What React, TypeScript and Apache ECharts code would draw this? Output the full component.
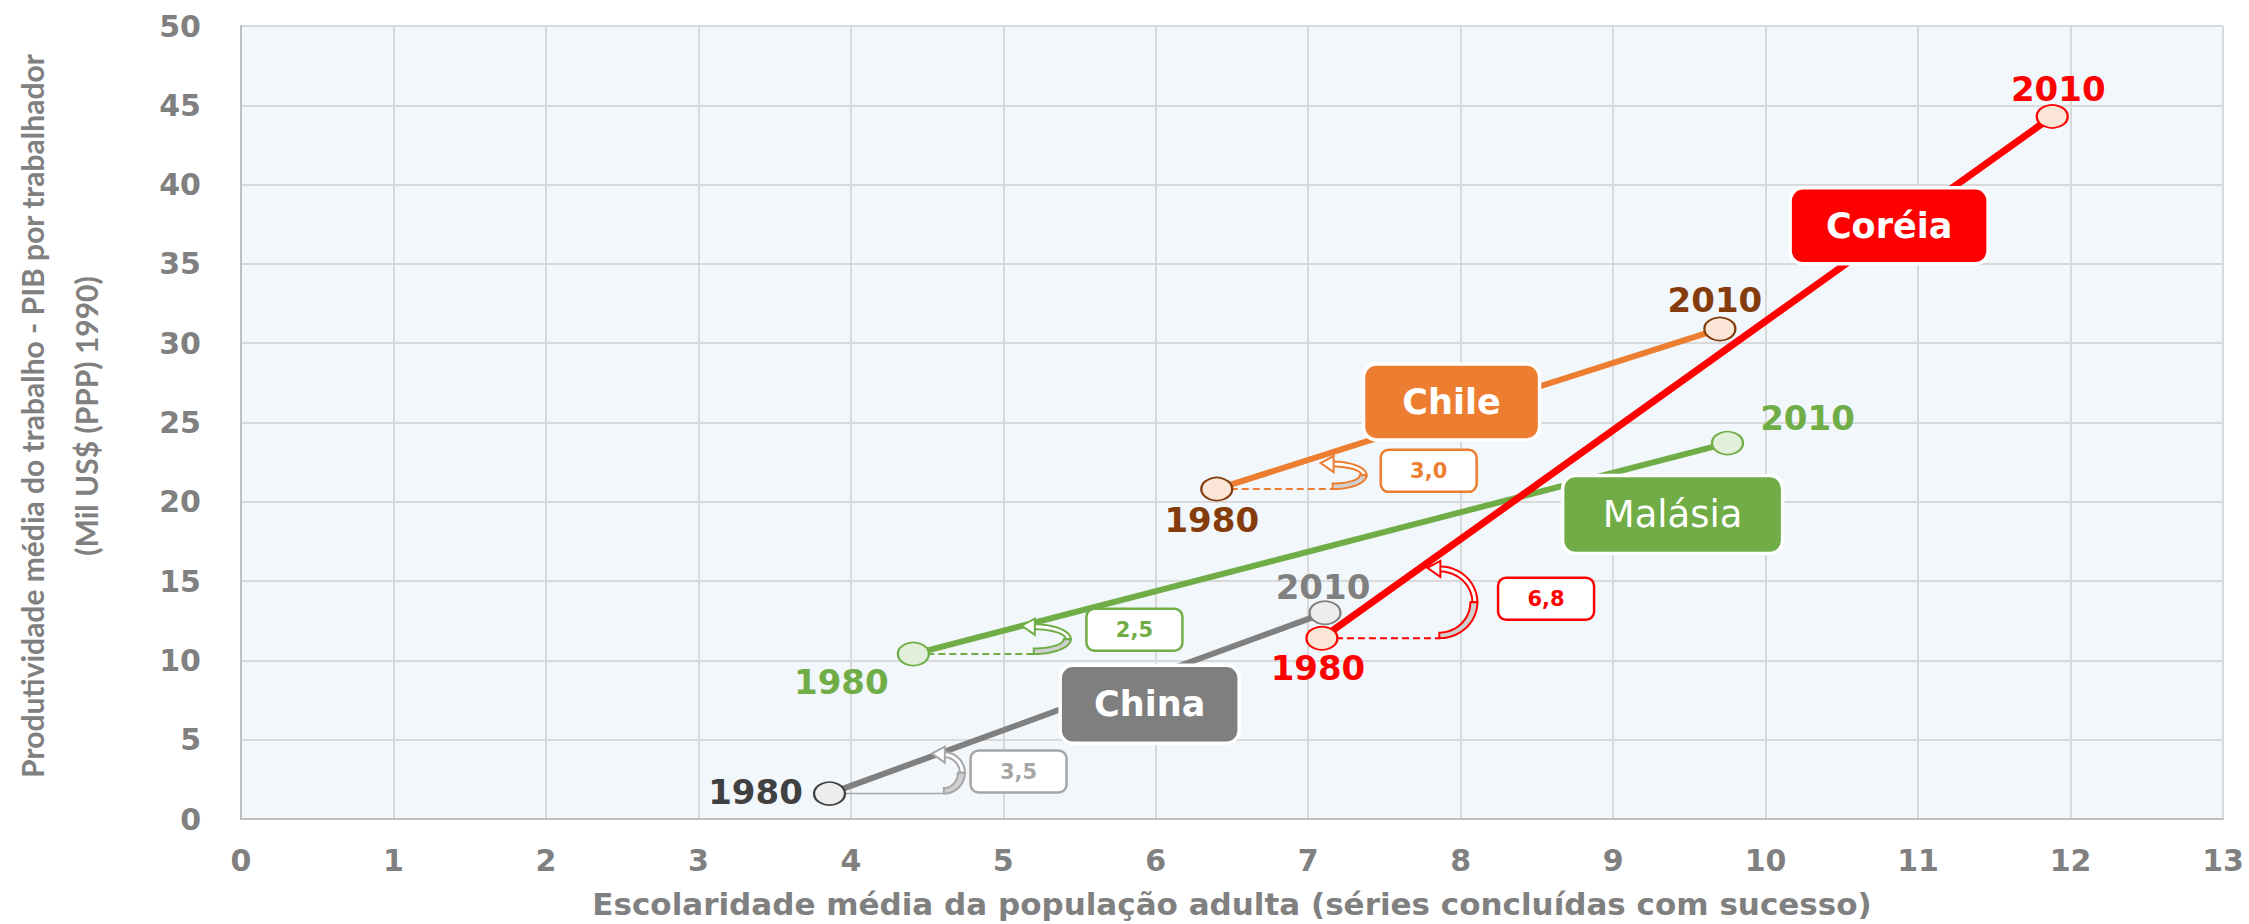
import React, { useEffect, useRef } from "react";
import * as echarts from "echarts";

// ---- data ----
const years = ["1980", "2010"];
const countries = ["China", "Malásia", "Chile", "Coréia"];
const schoolingChina = [3.86, 7.11];
const productivityChina = [1.6, 13.0];
const schoolingMalaysia = [4.41, 9.75];
const productivityMalaysia = [10.4, 23.7];
const schoolingChile = [6.4, 9.7];
const productivityChile = [20.8, 30.9];
const schoolingKorea = [7.09, 11.88];
const productivityKorea = [11.4, 44.3];
const gainLabels = ["3,5", "2,5", "3,0", "6,8"];

const xTitle = "Escolaridade média da população adulta (séries concluídas com sucesso)";
const yTitle1 = "Produtividade média do trabalho - PIB por trabalhador";
const yTitle2 = "(Mil US$ (PPP) 1990)";

// ---- styles / annotation placement (data coordinates) ----
const W = 2249;
const H = 924;
const GRAY = "#808080";
const FONT = "DejaVu Sans";

const seriesStyle: Record<string, any> = {
  China: {
    line: "#808080", width: 6,
    fill: ["#ededed", "#ededed"], border: ["#404040", "#808080"],
    label: ["#404040", "#808080"], offsets: [[-74, -2], [-2, -26]],
    box: { cx: 5.96, cy: 7.24, w: 179, h: 78, fill: "#7f7f7f", weight: "bold", size: 35 },
    gain: { cx: 5.1, cy: 2.99, color: "#a6a6a6" },
    arrow: { cx: 4.61, top: 4.22, rx: 21, color: "#a6a6a6", dashed: false },
  },
  "Malásia": {
    line: "#70ad47", width: 6,
    fill: ["#e2efda", "#e2efda"], border: ["#70ad47", "#70ad47"],
    label: ["#70ad47", "#70ad47"], offsets: [[-72, 28], [80, -25]],
    box: { cx: 9.39, cy: 19.2, w: 220, h: 78, fill: "#70ad47", weight: "normal", size: 37 },
    gain: { cx: 5.86, cy: 11.93, color: "#70ad47" },
    arrow: { cx: 5.2, top: 12.28, rx: 37, color: "#70ad47", dashed: true },
  },
  Chile: {
    line: "#ed7d31", width: 6,
    fill: ["#fbe5d6", "#fbe5d6"], border: ["#843c0c", "#843c0c"],
    label: ["#843c0c", "#843c0c"], offsets: [[-5, 31], [-5, -29]],
    box: { cx: 7.94, cy: 26.3, w: 176, h: 76, fill: "#ed7d31", weight: "bold", size: 35 },
    gain: { cx: 7.79, cy: 21.95, color: "#ed7d31" },
    arrow: { cx: 7.16, top: 22.54, rx: 34, color: "#ed7d31", dashed: true },
  },
  "Coréia": {
    line: "#ff0000", width: 7,
    fill: ["#fbe5d6", "#fbe5d6"], border: ["#ff0000", "#ff0000"],
    label: ["#ff0000", "#ff0000"], offsets: [[-4, 30], [6, -27]],
    box: { cx: 10.81, cy: 37.4, w: 198, h: 76, fill: "#ff0000", weight: "bold", size: 35 },
    gain: { cx: 8.56, cy: 13.89, color: "#ff0000" },
    arrow: { cx: 7.86, top: 15.93, rx: 38, color: "#ff0000", dashed: true },
  },
};

const seriesData: Record<string, [number[], number[]]> = {
  China: [schoolingChina, productivityChina],
  "Malásia": [schoolingMalaysia, productivityMalaysia],
  Chile: [schoolingChile, productivityChile],
  "Coréia": [schoolingKorea, productivityKorea],
};

function buildSeries() {
  return countries.map((name) => {
    const st = seriesStyle[name];
    const [xs, ys] = seriesData[name];
    return {
      name,
      type: "line",
      z: 3,
      symbol: "circle",
      symbolSize: [31, 23],
      lineStyle: { color: st.line, width: st.width },
      data: years.map((yr, i) => ({
        value: [xs[i], ys[i]],
        name: yr,
        itemStyle: { color: st.fill[i], borderColor: st.border[i], borderWidth: 2 },
        label: {
          show: true,
          position: "inside",
          offset: st.offsets[i],
          formatter: yr,
          color: st.label[i],
          fontFamily: FONT,
          fontWeight: "bold",
          fontSize: 34,
          align: "center",
          verticalAlign: "middle",
        },
      })),
    };
  });
}

function ellipsePts(cx: number, cy: number, rx: number, ry: number, a0: number, a1: number, n = 24) {
  const pts: number[][] = [];
  for (let i = 0; i <= n; i++) {
    const t = a0 + ((a1 - a0) * i) / n;
    pts.push([cx + rx * Math.cos(t), cy + ry * Math.sin(t)]);
  }
  return pts;
}

export default function App() {
  const ref = useRef<HTMLDivElement>(null);
  useEffect(() => {
    if (!ref.current) return;
    const chart = echarts.init(ref.current, null, { renderer: "svg", width: W, height: H });
    const axisLabel = { color: GRAY, fontFamily: FONT, fontWeight: "bold", fontSize: 30 };
    chart.setOption({
      animation: false,
      backgroundColor: "#ffffff",
      grid: {
        left: 241, right: 26, top: 26, bottom: 104,
        show: true, backgroundColor: "#f2f7fc", borderWidth: 0,
      },
      xAxis: {
        type: "value", min: 0, max: 13, interval: 1,
        name: xTitle, nameLocation: "middle", nameGap: 69,
        nameTextStyle: { color: GRAY, fontFamily: FONT, fontWeight: "bold", fontSize: 31 },
        axisLine: { show: true, lineStyle: { color: "#bfbfbf", width: 2 } },
        axisTick: { show: false },
        splitLine: { show: true, lineStyle: { color: "#d9d9d9", width: 2 } },
        axisLabel: { ...axisLabel, margin: 26 },
      },
      yAxis: {
        type: "value", min: 0, max: 50, interval: 5,
        axisLine: { show: true, lineStyle: { color: "#bfbfbf", width: 2 } },
        axisTick: { show: false },
        splitLine: { show: true, lineStyle: { color: "#d9d9d9", width: 2 } },
        axisLabel: { ...axisLabel, margin: 40 },
      },
      series: buildSeries(),
    });

    const toPx = (x: number, y: number) =>
      chart.convertToPixel({ xAxisIndex: 0, yAxisIndex: 0 }, [x, y]) as number[];

    const g: any[] = [];
    // y axis title (two rotated lines)
    [yTitle1, yTitle2].forEach((t, i) => {
      g.push({
        type: "text", x: i === 0 ? 32 : 86, y: 416, rotation: Math.PI / 2, z: 50,
        style: {
          text: t, fill: GRAY, fontFamily: "Lato", fontWeight: "bold", fontSize: 30,
          align: "center", verticalAlign: "middle",
        },
      });
    });

    countries.forEach((name, ci) => {
      const st = seriesStyle[name];
      const [xs, ys] = seriesData[name];
      const p0 = toPx(xs[0], ys[0]);
      const a = st.arrow;
      const c = toPx(a.cx, a.top);
      const cx = c[0];
      const ry = (p0[1] - c[1]) / 2;
      const cy = p0[1] - ry;
      const rx = a.rx;
      // baseline from 1980 point
      g.push({
        type: "line", z: 2,
        shape: { x1: p0[0] + 14, y1: p0[1], x2: cx, y2: p0[1] },
        style: {
          stroke: a.color, lineWidth: a.dashed ? 2 : 1.5,
          lineDash: a.dashed ? [7, 4] : null,
        },
      });
      const t1 = 7;
      const t2 = 5;
      // upper (white) band
      const upOuter = ellipsePts(cx, cy, rx, ry, 0, -Math.PI / 2);
      const upInner = ellipsePts(cx, cy, rx - t2, ry - t2, -Math.PI / 2, 0);
      g.push({
        type: "polygon", z: 20,
        shape: { points: upOuter.concat(upInner) },
        style: { fill: "#ffffff", stroke: a.color, lineWidth: 2 },
      });
      // arrow head
      const ym = cy - ry + t2 / 2;
      g.push({
        type: "polygon", z: 21,
        shape: { points: [[cx + 1, ym - 8], [cx + 1, ym + 8], [cx - 12, ym - 1]] },
        style: { fill: "#ffffff", stroke: a.color, lineWidth: 2 },
      });
      // lower (grey) band
      const loOuter = ellipsePts(cx, cy, rx, ry, Math.PI / 2, 0);
      const loInner = ellipsePts(cx, cy, rx - t1, ry - t1 * 0.8, 0, Math.PI / 2);
      g.push({
        type: "polygon", z: 22,
        shape: { points: loOuter.concat(loInner) },
        style: { fill: "#d0d0d0", stroke: a.color, lineWidth: 2 },
      });

      // gain value box
      const gp = toPx(st.gain.cx, st.gain.cy);
      g.push({
        type: "rect", z: 30,
        shape: { x: gp[0] - 48, y: gp[1] - 21, width: 96, height: 42, r: 8 },
        style: { fill: "#ffffff", stroke: st.gain.color, lineWidth: 2.5 },
      });
      g.push({
        type: "text", z: 31, x: gp[0], y: gp[1],
        style: {
          text: gainLabels[ci], fill: st.gain.color, fontFamily: FONT, fontWeight: "bold",
          fontSize: 21, align: "center", verticalAlign: "middle",
        },
      });

      // country box
      const b = st.box;
      const bp = toPx(b.cx, b.cy);
      g.push({
        type: "rect", z: 40,
        shape: { x: bp[0] - b.w / 2, y: bp[1] - b.h / 2, width: b.w, height: b.h, r: 13 },
        style: { fill: b.fill, stroke: "#ffffff", lineWidth: 3.5 },
      });
      g.push({
        type: "text", z: 41, x: bp[0], y: bp[1],
        style: {
          text: name, fill: "#ffffff", fontFamily: FONT, fontWeight: b.weight,
          fontSize: b.size, align: "center", verticalAlign: "middle",
        },
      });
    });

    chart.setOption({ graphic: g });
    return () => chart.dispose();
  }, []);

  return (
    <div
      ref={ref}
      style={{ position: "fixed", left: 0, top: 0, width: W, height: H, background: "#fff" }}
    />
  );
}
